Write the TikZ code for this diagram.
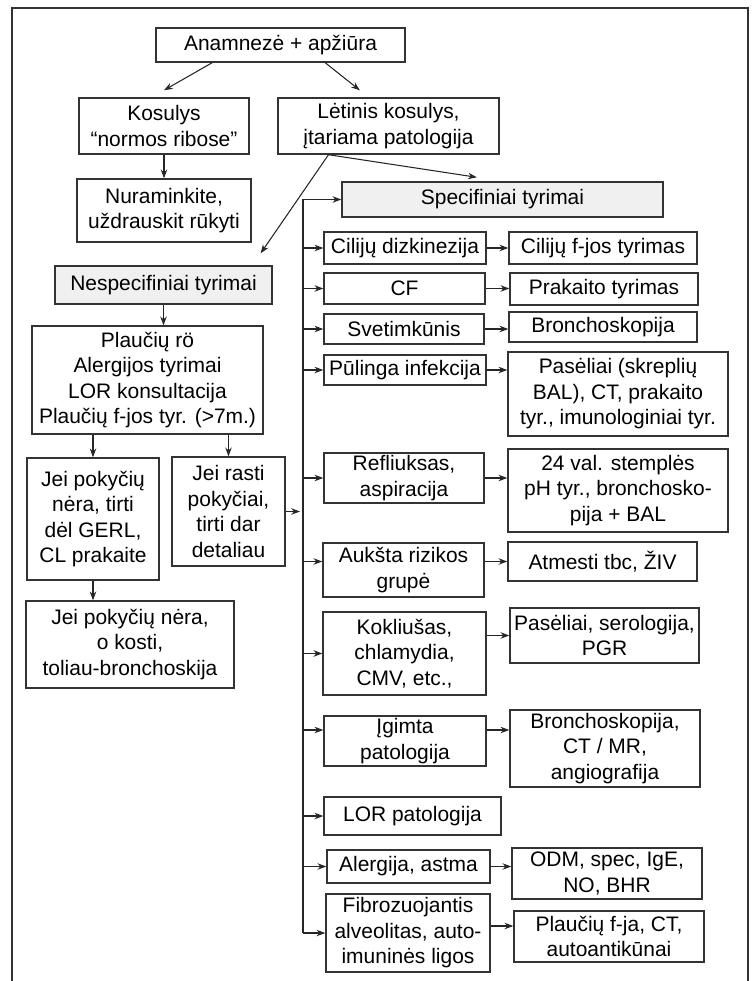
\documentclass[tikz,border=0pt]{standalone}
\usepackage{fontspec}
\setmainfont{Liberation Sans}
\usepackage{xcolor}
\usepackage{tikz}
\usetikzlibrary{arrows.meta, positioning}

\begin{document}
\begin{tikzpicture}[
  x=0.03cm, y=-0.03cm,
  box/.style={draw=black!80, line width=1.2pt, fill=white, inner sep=0pt, align=center,
    font=\fontsize{17.9}{21.8}\selectfont},
  shaded/.style={box, fill=black!6},
  arr/.style={->, line width=0.9pt, black!85},
  >={Stealth[length=7.5pt, width=5.5pt]}
]
\useasboundingbox (0,0) rectangle (754,981);
\draw[line width=1pt, black!80] (12,995) |- (748,8) -- (748,995);

% left part
\node[box, minimum width=7.47cm, minimum height=1.02cm] (anam) at (280.5,45) {Anamnezė + apžiūra};
\node[box, minimum width=5.1cm, minimum height=1.68cm] (kos) at (164,126) {Kosulys\\“normos ribose”};
\node[box, minimum width=6.63cm, minimum height=1.68cm] (letin) at (388.5,126) {Lėtinis kosulys,\\įtariama patologija};
\node[box, minimum width=5.22cm, minimum height=1.89cm] (nuram) at (164,210.5) {Nuraminkite,\\uždrauskit rūkyti};
\node[shaded, minimum width=6.51cm, minimum height=1.14cm] (nesp) at (163.5,285) {Nespecifiniai tyrimai};
\node[box, minimum width=6.93cm, minimum height=3.24cm] (plauc) at (147.5,380) {Plaučių rö\\Alergijos tyrimai\\LOR konsultacija\\Plaučių f-jos tyr. (>7m.)};
\node[box, minimum width=3.96cm, minimum height=3.66cm] (nera) at (93,519) {Jei pokyčių\\nėra, tirti\\dėl GERL,\\CL prakaite};
\node[box, minimum width=3.39cm, minimum height=3.27cm] (rasti) at (228.5,511.5) {Jei rasti\\pokyčiai,\\tirti dar\\detaliau};
\node[box, minimum width=6.24cm, minimum height=2.61cm] (kosti) at (130,644.5) {Jei pokyčių nėra,\\o kosti,\\toliau-bronchoskija};

% right part
\node[shaded, minimum width=9.63cm, minimum height=1.05cm] (spec) at (502.5,199.5) {Specifiniai tyrimai};
\node[box, minimum width=4.86cm, minimum height=0.96cm] (cil) at (405,248) {Cilijų dizkinezija};
\node[box, minimum width=5.64cm, minimum height=0.96cm] (cilf) at (603,248) {Cilijų f-jos tyrimas};
\node[box, minimum width=4.83cm, minimum height=0.93cm] (cf) at (404.5,288.5) {CF};
\node[box, minimum width=5.64cm, minimum height=0.96cm] (prak) at (604,289) {Prakaito tyrimas};
\node[box, minimum width=4.8cm, minimum height=0.9cm] (svet) at (404,329) {Svetimkūnis};
\node[box, minimum width=5.64cm, minimum height=0.9cm] (bronch) at (603,327) {Bronchoskopija};
\node[box, minimum width=4.86cm, minimum height=0.9cm] (pul) at (405,370) {Pūlinga infekcija};
\node[box, minimum width=6.6cm, minimum height=2.52cm] (pasel) at (618,394) {Pasėliai (skreplių\\BAL), CT, prakaito\\tyr., imunologiniai tyr.};
\node[box, minimum width=4.8cm, minimum height=1.5cm] (refl) at (404,478) {Refliuksas,\\aspiracija};
\node[box, minimum width=6.6cm, minimum height=2.49cm] (val) at (618,490.5) {24 val. stemplės\\pH tyr., bronchosko-\\pija + BAL};
\node[box, minimum width=4.83cm, minimum height=1.62cm] (auks) at (403.5,570) {Aukšta rizikos\\grupė};
\node[box, minimum width=5.67cm, minimum height=1.17cm] (atm) at (602.5,561.5) {Atmesti tbc, ŽIV};
\node[box, minimum width=4.89cm, minimum height=2.49cm] (kokl) at (404.5,653.5) {Kokliušas,\\chlamydia,\\CMV, etc.,};
\node[box, minimum width=5.67cm, minimum height=1.65cm] (pasel2) at (604.5,635.5) {Pasėliai, serologija,\\PGR};
\node[box, minimum width=4.86cm, minimum height=1.5cm] (igimt) at (405,741) {Įgimta\\patologija};
\node[box, minimum width=5.7cm, minimum height=2.31cm] (bronch2) at (605,748.5) {Bronchoskopija,\\CT / MR,\\angiografija};
\node[box, minimum width=5.31cm, minimum height=1.14cm] (lor) at (412.5,816) {LOR patologija};
\node[box, minimum width=4.89cm, minimum height=0.99cm] (alerg) at (408.5,866.5) {Alergija, astma};
\node[box, minimum width=5.7cm, minimum height=1.53cm] (odm) at (607,873.5) {ODM, spec, IgE,\\NO, BHR};
\node[box, minimum width=4.92cm, minimum height=2.34cm] (fibro) at (408,933) {Fibrozuojantis\\alveolitas, auto-\\imuninės ligos};
\node[box, minimum width=5.7cm, minimum height=1.53cm] (plf) at (609,936.5) {Plaučių f-ja, CT,\\autoantikūnai};

\coordinate (split) at ([xshift=-1.8cm]letin.south);
\coordinate (bus) at (303,933);

% top arrows
\draw[arr] ([xshift=-2.05cm]anam.south) -- ([yshift=0.21cm]kos.north);
\draw[arr] ([xshift=1.34cm]anam.south) -- ([xshift=-0.86cm, yshift=0.21cm]letin.north);
\draw[arr] (kos.south) -- (nuram.north);
\draw[arr] (split) -- ([xshift=-0.36cm, yshift=0.36cm]nesp.north east);
\draw[arr] (split) -- ([xshift=-0.77cm, yshift=0.12cm]spec.north);

% left column
\draw[arr] (nesp.south) -- (nesp.south |- plauc.north);
\draw[arr] (nera.north |- plauc.south) -- (nera.north);
\draw[arr] (rasti.north |- plauc.south) -- (rasti.north);
\draw[arr] (nera.south) -- (nera.south |- kosti.north);
\draw[arr] (rasti.east) -- ([xshift=-0.09cm]bus |- rasti.east);

% bus and branches
\draw[arr] (bus) |- (spec.west);
\draw[arr] (bus) -- (fibro.west);
\foreach \n in {cil, cf, svet, pul, refl, lor, kokl}
  \draw[arr] (bus |- \n.west) -- (\n.west);
\draw[arr] (bus |- atm.west) -- (auks.west |- atm.west);
\draw[arr] ([yshift=0.33cm]bus |- igimt.west) -- ([yshift=0.33cm]igimt.west);
\draw[arr] (bus |- alerg.west) -- (alerg.west);

% results
\draw[arr] (cil.east) -- (cilf.west);
\draw[arr] (cf.east) -- (prak.west |- cf.east);
\draw[arr] (svet.east) -- (bronch.west |- svet.east);
\draw[arr] (pul.east) -- (pasel.west |- pul.east);
\draw[arr] (refl.east) -- (val.west |- refl.east);
\draw[arr] (auks.east |- atm.west) -- (atm.west);
\draw[arr] (kokl.east |- pasel2.west) -- (pasel2.west);
\draw[arr] ([yshift=0.33cm]igimt.east) -- ([yshift=0.33cm]igimt.east -| bronch2.west);
\draw[arr] (alerg.east) -- (odm.west |- alerg.east);
\draw[arr] ([yshift=0.21cm]fibro.east) -- ([yshift=0.21cm]fibro.east -| plf.west);
\end{tikzpicture}
\end{document}
